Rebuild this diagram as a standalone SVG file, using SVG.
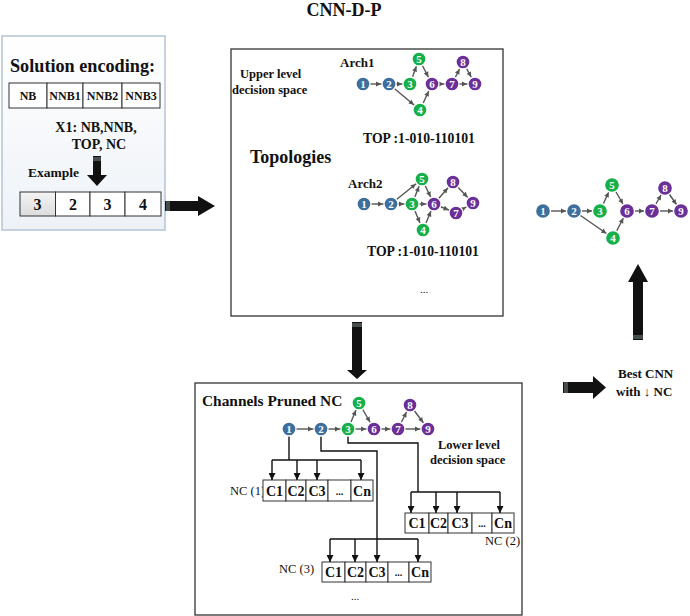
<svg xmlns="http://www.w3.org/2000/svg" width="690" height="616" viewBox="0 0 690 616">
<style>
.t{font-family:"Liberation Serif","Times New Roman",serif;font-weight:bold;fill:#111}
.r{font-family:"Liberation Serif","Times New Roman",serif;fill:#111}
.box{fill:#fff;stroke:#333;stroke-width:1.3}
.cell{fill:#fff;stroke:#333;stroke-width:1}
.e{stroke:#555;stroke-width:1.4;fill:none;marker-end:url(#ah)}
.w{stroke:#111;stroke-width:1.4;fill:none}
.wa{stroke:#111;stroke-width:1.4;fill:none;marker-end:url(#bh)}
.big{fill:#111}
.stripe{stroke:#9aa;stroke-width:0.8}
.b circle{fill:#3e6e9c}
.g circle{fill:#16b04b}
.p circle{fill:#6b2f98}
.n circle{stroke:#fff;stroke-width:1.3}
.n text{font-family:"Liberation Serif","Times New Roman",serif;font-weight:bold;font-size:11px;fill:#fff;text-anchor:middle}
</style>
<defs>
<linearGradient id="lg" x1="0" y1="0" x2="0" y2="1">
<stop offset="0" stop-color="#ffffff"/>
<stop offset="1" stop-color="#eef2f7"/>
</linearGradient>
<linearGradient id="cg" x1="0" y1="0" x2="0" y2="1">
<stop offset="0" stop-color="#f4f4f4"/>
<stop offset="1" stop-color="#dcdcdc"/>
</linearGradient>
<marker id="ah" viewBox="0 0 10 10" refX="26" refY="5" markerWidth="5" markerHeight="5" markerUnits="userSpaceOnUse" orient="auto" overflow="visible">
<path d="M0,0 L10,5 L0,10 z" fill="#555"/>
</marker>
<marker id="bh" viewBox="0 0 10 10" refX="10" refY="5" markerWidth="7" markerHeight="7" markerUnits="userSpaceOnUse" orient="auto">
<path d="M0,0 L10,5 L0,10 z" fill="#111"/>
</marker>
</defs>

<rect width="690" height="616" fill="#fff"/>

<text class="t" x="344" y="16" font-size="18" text-anchor="middle">CNN-D-P</text>

<!-- Left: solution encoding -->
<g id="encoding">
<rect x="2" y="36" width="163" height="194" fill="url(#lg)" stroke="#b4c4d6" stroke-width="1.5"/>
<text class="t" x="10" y="72" font-size="18.2">Solution encoding:</text>
<rect class="cell" x="9" y="83" width="38" height="25"/>
<rect class="cell" x="47" y="83" width="36" height="25"/>
<rect class="cell" x="83" y="83" width="39" height="25"/>
<rect class="cell" x="122" y="83" width="38" height="25"/>
<text class="t" x="28" y="100" font-size="12" text-anchor="middle">NB</text>
<text class="t" x="65" y="100" font-size="12" text-anchor="middle">NNB1</text>
<text class="t" x="102.5" y="100" font-size="12" text-anchor="middle">NNB2</text>
<text class="t" x="141" y="100" font-size="12" text-anchor="middle">NNB3</text>
<text class="t" x="96" y="132" font-size="14" text-anchor="middle">X1: NB,NNB,</text>
<text class="t" x="99" y="149" font-size="14" text-anchor="middle">TOP, NC</text>
<text class="t" x="28" y="177" font-size="13.5">Example</text>
<path class="big" d="M93,156 H101 V175 H107 L97,186 L87,175 H93 Z"/>
<line class="stripe" x1="93" y1="158" x2="101" y2="158"/>
<line class="stripe" x1="93" y1="160" x2="101" y2="160"/>
<rect x="20" y="192" width="35.5" height="24" fill="url(#cg)" stroke="#333" stroke-width="1"/>
<rect class="cell" x="55.5" y="192" width="34.5" height="24"/>
<rect class="cell" x="90" y="192" width="35" height="24"/>
<rect class="cell" x="125" y="192" width="36" height="24"/>
<text class="t" x="37.5" y="210" font-size="16" text-anchor="middle">3</text>
<text class="t" x="73" y="210" font-size="16" text-anchor="middle">2</text>
<text class="t" x="107.5" y="210" font-size="16" text-anchor="middle">3</text>
<text class="t" x="143" y="210" font-size="16" text-anchor="middle">4</text>
</g>

<!-- Upper box -->
<g id="topologies">
<rect class="box" x="231" y="49" width="272" height="267"/>
<text class="t" x="240" y="78" font-size="12.5">Upper level</text>
<text class="t" x="232" y="94" font-size="12.5">decision space</text>
<text class="t" x="340" y="67" font-size="13">Arch1</text>
<text class="t" x="250" y="163" font-size="18">Topologies</text>
<text class="t" x="363" y="143" font-size="13.7">TOP :1-010-110101</text>
<text class="t" x="348" y="188" font-size="13">Arch2</text>
<text class="t" x="367" y="256" font-size="13.7">TOP :1-010-110101</text>
<text class="r" x="424" y="293" font-size="11" text-anchor="middle">...</text>
</g>

<!-- Lower box -->
<g id="pruning">
<rect class="box" x="195" y="383" width="327" height="232"/>
<text class="t" x="202" y="406" font-size="15.4">Channels Pruned NC</text>
<text class="t" x="438" y="449" font-size="12.5">Lower level</text>
<text class="t" x="430" y="464" font-size="12.5">decision space</text>
</g>

<g id="nc1">
<text class="r" x="230" y="495" font-size="12.5">NC (1)</text>
<rect class="cell" x="263" y="480" width="23" height="21"/>
<rect class="cell" x="286" y="480" width="20" height="21"/>
<rect class="cell" x="306" y="480" width="22" height="21"/>
<rect class="cell" x="328" y="480" width="23" height="21"/>
<rect class="cell" x="351" y="480" width="22" height="21"/>
<text class="t" x="274.5" y="496" font-size="14" text-anchor="middle">C1</text>
<text class="t" x="296" y="496" font-size="14" text-anchor="middle">C2</text>
<text class="t" x="317" y="496" font-size="14" text-anchor="middle">C3</text>
<text class="t" x="339.5" y="495" font-size="10" text-anchor="middle">...</text>
<text class="t" x="362" y="496" font-size="14" text-anchor="middle">Cn</text>
</g>

<g id="nc2">
<rect class="cell" x="405" y="513" width="24" height="20"/>
<rect class="cell" x="429" y="513" width="19" height="20"/>
<rect class="cell" x="448" y="513" width="24" height="20"/>
<rect class="cell" x="472" y="513" width="20" height="20"/>
<rect class="cell" x="492" y="513" width="22" height="20"/>
<text class="t" x="417" y="528" font-size="14" text-anchor="middle">C1</text>
<text class="t" x="438.5" y="528" font-size="14" text-anchor="middle">C2</text>
<text class="t" x="460" y="528" font-size="14" text-anchor="middle">C3</text>
<text class="t" x="482" y="527" font-size="10" text-anchor="middle">...</text>
<text class="t" x="503" y="528" font-size="14" text-anchor="middle">Cn</text>
<text class="r" x="485" y="545" font-size="12.5">NC (2)</text>
</g>

<g id="nc3">
<text class="r" x="279" y="573" font-size="12.5">NC (3)</text>
<rect class="cell" x="322" y="562" width="23" height="20"/>
<rect class="cell" x="345" y="562" width="21" height="20"/>
<rect class="cell" x="366" y="562" width="22" height="20"/>
<rect class="cell" x="388" y="562" width="21" height="20"/>
<rect class="cell" x="409" y="562" width="22" height="20"/>
<text class="t" x="333.5" y="577" font-size="14" text-anchor="middle">C1</text>
<text class="t" x="355.5" y="577" font-size="14" text-anchor="middle">C2</text>
<text class="t" x="377" y="577" font-size="14" text-anchor="middle">C3</text>
<text class="t" x="398.5" y="576" font-size="10" text-anchor="middle">...</text>
<text class="t" x="420" y="577" font-size="14" text-anchor="middle">Cn</text>
<text class="r" x="355" y="600" font-size="11" text-anchor="middle">...</text>
</g>

<g id="best-label">
<text class="t" x="618" y="378" font-size="13">Best CNN</text>
<text class="t" x="616" y="396" font-size="13" font-family="'Liberation Serif','DejaVu Serif',serif">with ↓ NC</text>
</g>

<!-- Connectors -->
<g id="connectors">
<!-- big arrows -->
<path class="big" d="M165,201 H198 V196 L215,206 L198,216 V211 H165 Z"/>
<line class="stripe" x1="167" y1="201" x2="167" y2="211"/>
<line class="stripe" x1="169" y1="201" x2="169" y2="211"/>
<path class="big" d="M352,322 H362 V370 H367 L357,379 L347,370 H352 Z"/>
<line class="stripe" x1="352" y1="324" x2="362" y2="324"/>
<line class="stripe" x1="352" y1="326" x2="362" y2="326"/>
<path class="big" d="M633,340 V282 H628 L638,264 L648,282 H643 V340 Z"/>
<line class="stripe" x1="633" y1="336" x2="643" y2="336"/>
<line class="stripe" x1="633" y1="338" x2="643" y2="338"/>
<path class="big" d="M563,382 H593 V376 L606,387.5 L593,399 V393 H563 Z"/>
<line class="stripe" x1="565" y1="382" x2="565" y2="393"/>
<line class="stripe" x1="567" y1="382" x2="567" y2="393"/>

<!-- Arch1 edges -->
<line class="e" x1="363" y1="84" x2="389" y2="84"/>
<line class="e" x1="389" y1="84" x2="410" y2="84"/>
<line class="e" x1="410" y1="84" x2="419" y2="59"/>
<line class="e" x1="419" y1="59" x2="432" y2="84"/>
<line class="e" x1="389" y1="84" x2="420" y2="110"/>
<line class="e" x1="420" y1="110" x2="432" y2="84"/>
<line class="e" x1="432" y1="84" x2="452" y2="84"/>
<line class="e" x1="452" y1="84" x2="463" y2="62"/>
<line class="e" x1="463" y1="62" x2="475" y2="84"/>
<line class="e" x1="452" y1="84" x2="475" y2="84"/>
<!-- Arch2 edges -->
<line class="e" x1="364" y1="204" x2="391" y2="204"/>
<line class="e" x1="391" y1="204" x2="412" y2="204"/>
<line class="e" x1="391" y1="204" x2="422" y2="179"/>
<line class="e" x1="412" y1="204" x2="422" y2="179"/>
<line class="e" x1="412" y1="204" x2="434" y2="204"/>
<line class="e" x1="412" y1="204" x2="423" y2="230"/>
<line class="e" x1="422" y1="179" x2="434" y2="204"/>
<line class="e" x1="423" y1="230" x2="434" y2="204"/>
<line class="e" x1="434" y1="204" x2="453" y2="182"/>
<line class="e" x1="434" y1="204" x2="456" y2="213"/>
<line class="e" x1="453" y1="182" x2="473" y2="203"/>
<line class="e" x1="456" y1="213" x2="473" y2="203"/>
<!-- Lower edges -->
<line class="e" x1="289" y1="429" x2="321" y2="429"/>
<line class="e" x1="321" y1="429" x2="348" y2="429"/>
<line class="e" x1="348" y1="429" x2="359" y2="403"/>
<line class="e" x1="359" y1="403" x2="374" y2="429"/>
<line class="e" x1="348" y1="429" x2="374" y2="429"/>
<line class="e" x1="374" y1="429" x2="398" y2="429"/>
<line class="e" x1="398" y1="429" x2="410" y2="405"/>
<line class="e" x1="410" y1="405" x2="428" y2="429"/>
<line class="e" x1="398" y1="429" x2="428" y2="429"/>
<!-- Output edges -->
<line class="e" x1="543" y1="211" x2="574" y2="211"/>
<line class="e" x1="574" y1="211" x2="600" y2="211"/>
<line class="e" x1="600" y1="211" x2="612" y2="185"/>
<line class="e" x1="612" y1="185" x2="627" y2="211"/>
<line class="e" x1="574" y1="211" x2="613" y2="238"/>
<line class="e" x1="613" y1="238" x2="627" y2="211"/>
<line class="e" x1="627" y1="211" x2="652" y2="211"/>
<line class="e" x1="652" y1="211" x2="665" y2="188"/>
<line class="e" x1="665" y1="188" x2="681" y2="211"/>
<line class="e" x1="652" y1="211" x2="681" y2="211"/>

<!-- Channel connectors -->
<polyline class="w" points="289,436 289,460"/>
<line class="w" x1="272" y1="460" x2="361" y2="460"/>
<line class="wa" x1="272" y1="460" x2="272" y2="480"/>
<line class="wa" x1="297" y1="460" x2="297" y2="480"/>
<line class="wa" x1="317" y1="460" x2="317" y2="480"/>
<line class="wa" x1="361" y1="460" x2="361" y2="480"/>

<polyline class="w" points="321,436 321,451 377,451 377,539"/>
<line class="w" x1="330" y1="539" x2="418" y2="539"/>
<line class="wa" x1="330" y1="539" x2="330" y2="562"/>
<line class="wa" x1="355" y1="539" x2="355" y2="562"/>
<line class="wa" x1="377" y1="539" x2="377" y2="562"/>
<line class="wa" x1="418" y1="539" x2="418" y2="562"/>

<polyline class="w" points="348,436 348,443 418,443 418,492"/>
<line class="w" x1="411" y1="492" x2="500" y2="492"/>
<line class="wa" x1="411" y1="492" x2="411" y2="513"/>
<line class="wa" x1="436" y1="492" x2="436" y2="513"/>
<line class="wa" x1="457" y1="492" x2="457" y2="513"/>
<line class="wa" x1="500" y1="492" x2="500" y2="513"/>
</g>

<!-- Graph nodes: Arch1 -->
<g id="a1-1" class="n b"><circle cx="363" cy="84" r="7"/><text x="363" y="88">1</text></g>
<g id="a1-2" class="n b"><circle cx="389" cy="84" r="7"/><text x="389" y="88">2</text></g>
<g id="a1-3" class="n g"><circle cx="410" cy="84" r="7"/><text x="410" y="88">3</text></g>
<g id="a1-4" class="n g"><circle cx="420" cy="110" r="7"/><text x="420" y="114">4</text></g>
<g id="a1-5" class="n g"><circle cx="419" cy="59" r="7"/><text x="419" y="63">5</text></g>
<g id="a1-6" class="n p"><circle cx="432" cy="84" r="7"/><text x="432" y="88">6</text></g>
<g id="a1-7" class="n p"><circle cx="452" cy="84" r="7"/><text x="452" y="88">7</text></g>
<g id="a1-8" class="n p"><circle cx="463" cy="62" r="7"/><text x="463" y="66">8</text></g>
<g id="a1-9" class="n p"><circle cx="475" cy="84" r="7"/><text x="475" y="88">9</text></g>
<!-- Arch2 -->
<g id="a2-1" class="n b"><circle cx="364" cy="204" r="7"/><text x="364" y="208">1</text></g>
<g id="a2-2" class="n b"><circle cx="391" cy="204" r="7"/><text x="391" y="208">2</text></g>
<g id="a2-3" class="n g"><circle cx="412" cy="204" r="7"/><text x="412" y="208">3</text></g>
<g id="a2-4" class="n g"><circle cx="423" cy="230" r="7"/><text x="423" y="234">4</text></g>
<g id="a2-5" class="n g"><circle cx="422" cy="179" r="7"/><text x="422" y="183">5</text></g>
<g id="a2-6" class="n p"><circle cx="434" cy="204" r="7"/><text x="434" y="208">6</text></g>
<g id="a2-7" class="n p"><circle cx="456" cy="213" r="7"/><text x="456" y="217">7</text></g>
<g id="a2-8" class="n p"><circle cx="453" cy="182" r="7"/><text x="453" y="186">8</text></g>
<g id="a2-9" class="n p"><circle cx="473" cy="203" r="7"/><text x="473" y="207">9</text></g>
<!-- Lower -->
<g id="l-1" class="n b"><circle cx="289" cy="429" r="7"/><text x="289" y="433">1</text></g>
<g id="l-2" class="n b"><circle cx="321" cy="429" r="7"/><text x="321" y="433">2</text></g>
<g id="l-3" class="n g"><circle cx="348" cy="429" r="7"/><text x="348" y="433">3</text></g>
<g id="l-5" class="n g"><circle cx="359" cy="403" r="7"/><text x="359" y="407">5</text></g>
<g id="l-6" class="n p"><circle cx="374" cy="429" r="7"/><text x="374" y="433">6</text></g>
<g id="l-7" class="n p"><circle cx="398" cy="429" r="7"/><text x="398" y="433">7</text></g>
<g id="l-8" class="n p"><circle cx="410" cy="405" r="7"/><text x="410" y="409">8</text></g>
<g id="l-9" class="n p"><circle cx="428" cy="429" r="7"/><text x="428" y="433">9</text></g>
<!-- Output -->
<g id="o-1" class="n b"><circle cx="543" cy="211" r="7.5"/><text x="543" y="215">1</text></g>
<g id="o-2" class="n b"><circle cx="574" cy="211" r="7.5"/><text x="574" y="215">2</text></g>
<g id="o-3" class="n g"><circle cx="600" cy="211" r="7.5"/><text x="600" y="215">3</text></g>
<g id="o-4" class="n g"><circle cx="613" cy="238" r="7.5"/><text x="613" y="242">4</text></g>
<g id="o-5" class="n g"><circle cx="612" cy="185" r="7.5"/><text x="612" y="189">5</text></g>
<g id="o-6" class="n p"><circle cx="627" cy="211" r="7.5"/><text x="627" y="215">6</text></g>
<g id="o-7" class="n p"><circle cx="652" cy="211" r="7.5"/><text x="652" y="215">7</text></g>
<g id="o-8" class="n p"><circle cx="665" cy="188" r="7.5"/><text x="665" y="192">8</text></g>
<g id="o-9" class="n p"><circle cx="681" cy="211" r="7.5"/><text x="681" y="215">9</text></g>
</svg>
